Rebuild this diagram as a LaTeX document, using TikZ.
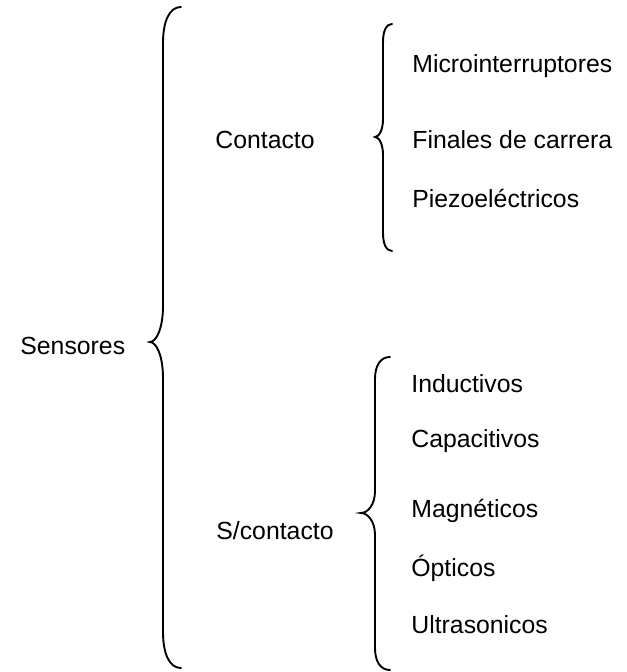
\documentclass[tikz,border=0pt]{standalone}
\usepackage{fontspec}
\setmainfont{Liberation Sans}
\newcommand\bracepath[7]{% #1 end x, #2 vertical x, #3 tip x, #4 top y, #5 tip y, #6 bottom y, #7 radius
  \draw[bracestyle] (#1,#4) .. controls ({#2+(#1-#2)*0.35},#4) and (#2,{#4+#7*0.4}) .. (#2,{#4+#7})
    -- (#2,{#5-#7}) .. controls (#2,{#5-#7*0.35}) and ({#3+(#2-#3)*0.45},#5) .. (#3,#5)
    .. controls ({#3+(#2-#3)*0.45},#5) and (#2,{#5+#7*0.35}) .. (#2,{#5+#7})
    -- (#2,{#6-#7}) .. controls (#2,{#6-#7*0.4}) and ({#2+(#1-#2)*0.35},#6) .. (#1,#6);}
\begin{document}
\begin{tikzpicture}[x=0.5pt,y=-0.5pt,
  lbl/.style={anchor=base west,inner sep=0pt,font=\fontsize{12.4}{15}\selectfont},
  bracestyle/.style={line width=0.95pt,line cap=round}]
\useasboundingbox (0,0) rectangle (626,672);
% big brace
\bracepath{181}{163}{150}{7}{342}{668}{36}
% contacto brace
\bracepath{392}{383}{375}{24}{137}{251}{18}
% s/contacto brace
\bracepath{390}{375}{361}{357}{513}{670}{22}
\node[lbl] (sens) at (20,355) {Sensores};
\node[lbl] (cont) at (215,149) {Contacto};
\node[lbl] (scont) at (216,539) {S/contacto};
\node[lbl] (m1) at (412,73) {Microinterruptores};
\node[lbl] (m2) at (412,149) {Finales de carrera};
\node[lbl] (m3) at (412,208) {Piezoeléctricos};
\node[lbl] (s1) at (411,392) {Inductivos};
\node[lbl] (s2) at (411,447) {Capacitivos};
\node[lbl] (s3) at (411,517) {Magnéticos};
\node[lbl] (s4) at (411,576) {Ópticos};
\node[lbl] (s5) at (411,633) {Ultrasonicos};
\end{tikzpicture}
\end{document}
